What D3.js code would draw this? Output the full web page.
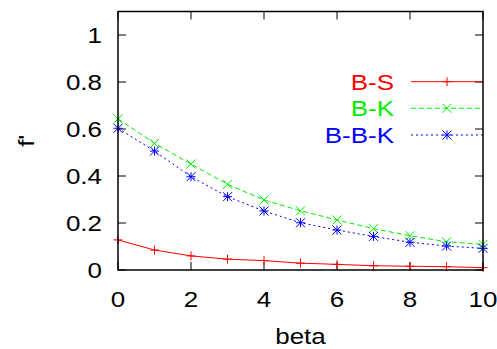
<!DOCTYPE html>
<html>
<head>
<meta charset="utf-8">
<script src="https://cdn.jsdelivr.net/npm/d3@7"></script>
<style>
  body { margin: 0; background: #fff; }
  text { font-family: "Liberation Sans", Arial, sans-serif; }
</style>
</head>
<body>
<svg id="chart" width="497" height="349"></svg>
<script>
const beta = [0, 1, 2, 3, 4, 5, 6, 7, 8, 9, 10];
const bS = [0.128, 0.085, 0.06, 0.046, 0.04, 0.029, 0.024, 0.018, 0.016, 0.014, 0.01];
const bK = [0.643, 0.539, 0.451, 0.365, 0.298, 0.252, 0.213, 0.176, 0.146, 0.12, 0.109];
const bBK = [0.603, 0.506, 0.397, 0.312, 0.251, 0.201, 0.17, 0.143, 0.118, 0.102, 0.092];
const xTicks = [0, 2, 4, 6, 8, 10];
const yTicks = [0, 0.2, 0.4, 0.6, 0.8, 1];

const seriesList = [
  { name: "B-S", values: bS, color: "#ff0000", dash: null, marker: "plus" },
  { name: "B-K", values: bK, color: "#00ee00", dash: "5,3", marker: "cross" },
  { name: "B-B-K", values: bBK, color: "#0000ff", dash: "2,3", marker: "star" }
];

const plotLeft = 118, plotRight = 483, plotTop = 11.5, plotBottom = 270;
const svg = d3.select("#chart");

const x = d3.scaleLinear().domain([0, 10]).range([plotLeft, plotRight]);
const y = d3.scaleLinear().domain([0, 1.1]).range([plotBottom, plotTop]);

const tickLen = 8;
const fontSize = 22;
const stretch = 1.18; // the reference font is a bit wider than Liberation Sans

// text helper: place at (tx, ty) then widen horizontally
function label(g, tx, ty, str, anchor, color, rot) {
  return g.append("text")
    .attr("transform", `translate(${tx},${ty})` + (rot ? ` rotate(${rot})` : "") + ` scale(${stretch},1)`)
    .attr("text-anchor", anchor)
    .attr("font-size", fontSize)
    .attr("fill", color || "#000")
    .text(str);
}

// ticks on all four sides, pointing in
const axisG = svg.append("g").attr("stroke", "#000").attr("stroke-width", 1);
xTicks.forEach(t => {
  axisG.append("line").attr("x1", x(t)).attr("x2", x(t)).attr("y1", plotBottom).attr("y2", plotBottom - tickLen);
  axisG.append("line").attr("x1", x(t)).attr("x2", x(t)).attr("y1", plotTop).attr("y2", plotTop + tickLen);
});
yTicks.forEach(t => {
  axisG.append("line").attr("x1", plotLeft).attr("x2", plotLeft + tickLen).attr("y1", y(t)).attr("y2", y(t));
  axisG.append("line").attr("x1", plotRight).attr("x2", plotRight - tickLen).attr("y1", y(t)).attr("y2", y(t));
});

const fmt = d3.format("~g");
const labels = svg.append("g");
xTicks.forEach(t => label(labels, x(t), 307, fmt(t), "middle"));
yTicks.forEach(t => label(labels, 102, y(t) + 8, fmt(t), "end"));

label(svg, x(5), 344, "beta", "middle");
label(svg, 34, (plotTop + plotBottom) / 2, "f'", "middle", "#000", -90);

function drawMarker(g, type, cx, cy, color) {
  const s = 4.5;
  const segs = [];
  if (type === "plus" || type === "star") {
    segs.push([cx - s, cy, cx + s, cy], [cx, cy - s, cx, cy + s]);
  }
  if (type === "cross" || type === "star") {
    segs.push([cx - s, cy - s, cx + s, cy + s], [cx - s, cy + s, cx + s, cy - s]);
  }
  segs.forEach(p => g.append("line")
    .attr("x1", p[0]).attr("y1", p[1]).attr("x2", p[2]).attr("y2", p[3])
    .attr("stroke", color).attr("stroke-width", 1));
}

const line = d3.line().x((d, i) => x(beta[i])).y(d => y(d));

const plot = svg.append("g");
seriesList.forEach(s => {
  plot.append("path")
    .attr("d", line(s.values))
    .attr("fill", "none")
    .attr("stroke", s.color)
    .attr("stroke-width", 1)
    .attr("stroke-dasharray", s.dash);
  const mg = plot.append("g");
  s.values.forEach((v, i) => drawMarker(mg, s.marker, x(beta[i]), y(v), s.color));
});

// legend
const legendY = [81.7, 108.3, 135];
seriesList.forEach((s, i) => {
  const ly = legendY[i];
  label(svg, 394, ly + 8, s.name, "end", s.color);
  svg.append("line")
    .attr("x1", 411).attr("x2", plotRight).attr("y1", ly).attr("y2", ly)
    .attr("stroke", s.color).attr("stroke-width", 1)
    .attr("stroke-dasharray", s.dash);
  drawMarker(svg.append("g"), s.marker, 447, ly, s.color);
});

// border
svg.append("rect")
  .attr("x", plotLeft).attr("y", plotTop)
  .attr("width", plotRight - plotLeft).attr("height", plotBottom - plotTop)
  .attr("fill", "none").attr("stroke", "#000").attr("stroke-width", 1.5);
</script>
</body>
</html>
